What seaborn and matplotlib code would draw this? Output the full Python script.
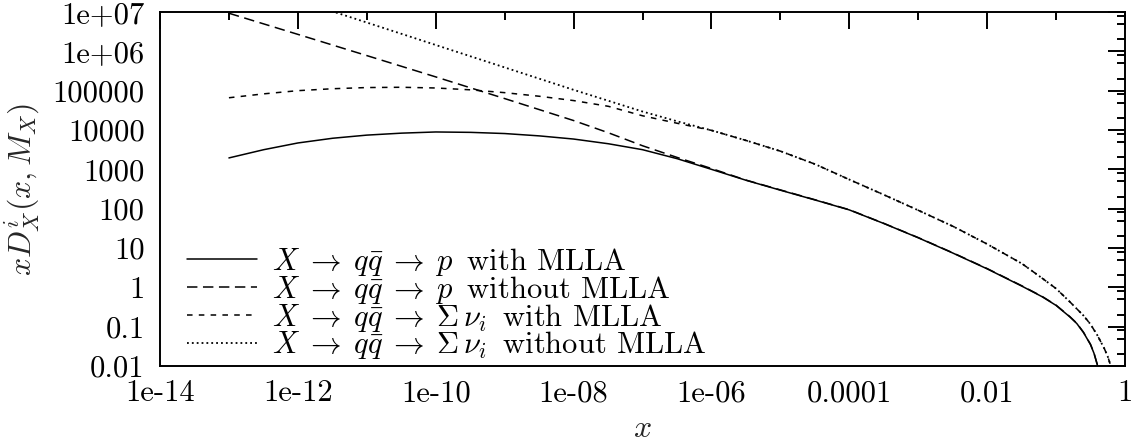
import matplotlib
matplotlib.use("Agg")
import matplotlib.pyplot as plt
from matplotlib.ticker import FixedLocator, FixedFormatter, NullFormatter
import seaborn as sns

# ---------------- data ----------------
x_main = [1e-13, 3.2e-13, 1e-12, 3.2e-12, 1e-11, 3.2e-11, 1e-10, 3.2e-10, 1e-9, 3.2e-9,
          1e-8, 3.2e-8, 1e-7, 3.2e-7, 1e-6, 3.2e-6, 1e-5, 3.2e-5, 1e-4, 3.2e-4,
          1e-3, 3.2e-3, 1e-2, 3.2e-2, 0.063, 0.1]

# X -> q qbar -> p with MLLA (solid)
x_p = x_main + [0.158, 0.20, 0.25, 0.316, 0.355, 0.398, 0.427]
y_p_mlla = [1950, 3160, 4680, 6170, 7410, 8320, 8910, 8710, 8130, 7080,
            5890, 4470, 3160, 1860, 1000, 525, 295, 166, 93, 41.7,
            18.2, 7.4, 2.95, 1.07, 0.575, 0.347, 0.178, 0.12, 0.071, 0.035, 0.021, 0.0105, 0.005]

# X -> q qbar -> p without MLLA (long dashes)
x_p_dla = [1e-13, 1e-12, 1e-11, 1e-10, 1e-9, 1e-8, 3.2e-8, 1e-7, 3.2e-7, 1e-6,
           3.2e-6, 1e-5, 3.2e-5, 1e-4, 3.2e-4, 1e-3, 3.2e-3, 1e-2, 3.2e-2, 0.063, 0.1,
           0.158, 0.20, 0.25, 0.316, 0.355, 0.398, 0.427]
y_p_dla = [9.3e6, 2.7e6, 7.8e5, 2.24e5, 6.3e4, 1.74e4, 8500, 3980, 2000, 1050,
           530, 300, 168, 94, 42, 18.4, 7.5, 3.0, 1.09, 0.585, 0.352,
           0.181, 0.122, 0.072, 0.0355, 0.0213, 0.0106, 0.0051]

# X -> q qbar -> sum nu_i with MLLA (short dashes)
x_nu = x_main + [0.158, 0.251, 0.316, 0.398, 0.50, 0.562, 0.631, 0.676]
y_nu_mlla = [6.6e4, 8.3e4, 1.0e5, 1.12e5, 1.2e5, 1.22e5, 1.17e5, 1.05e5, 8.9e4, 7.2e4,
             5.6e4, 4.0e4, 2.3e4, 1.48e4, 9800, 5400, 2900, 1350, 550, 224,
             91, 35.5, 12.6, 4.0, 1.7, 0.93, 0.43, 0.19, 0.115, 0.060, 0.028, 0.0174, 0.0093, 0.005]

# X -> q qbar -> sum nu_i without MLLA (dotted)
x_nu_dla = [1e-13, 1e-12, 1e-11, 1e-10, 1e-9, 1e-8, 1e-7, 3.2e-7, 1e-6,
            3.2e-6, 1e-5, 3.2e-5, 1e-4, 3.2e-4, 1e-3, 3.2e-3, 1e-2, 3.2e-2, 0.063, 0.1,
            0.158, 0.251, 0.316, 0.398, 0.50, 0.562, 0.631, 0.676]
y_nu_dla = [7.6e7, 2.0e7, 5.4e6, 1.45e6, 3.9e5, 1.05e5, 2.95e4, 1.66e4, 9800,
            5400, 2900, 1350, 550, 224, 91, 35.5, 12.6, 4.0, 1.7, 0.93,
            0.43, 0.19, 0.115, 0.060, 0.028, 0.0174, 0.0093, 0.005]

series_labels = [
    r"$X\;\to\;q\bar{q}\;\to\;p\,$ with MLLA",
    r"$X\;\to\;q\bar{q}\;\to\;p\,$ without MLLA",
    r"$X\;\to\;q\bar{q}\;\to\;\Sigma\,\nu_i\,$ with MLLA",
    r"$X\;\to\;q\bar{q}\;\to\;\Sigma\,\nu_i\,$ without MLLA",
]

x_major = [1e-14, 1e-12, 1e-10, 1e-8, 1e-6, 1e-4, 1e-2, 1]
x_major_labels = ["1e-14", "1e-12", "1e-10", "1e-08", "1e-06", "0.0001", "0.01", "1"]
x_minor = [1e-13, 1e-11, 1e-9, 1e-7, 1e-5, 1e-3, 1e-1]
y_major = [1e-2, 1e-1, 1, 10, 100, 1e3, 1e4, 1e5, 1e6, 1e7]
y_major_labels = ["0.01", "0.1", "1", "10", "100", "1000", "10000", "100000", "1e+06", "1e+07"]
y_minor_mult = [2, 5, 8]

# ---------------- styling ----------------
sns.set_theme(style="white")
plt.rcParams.update({
    "font.family": ["cmr10", "DejaVu Serif"],
    "mathtext.fontset": "cm",
    "axes.unicode_minus": False,
    "axes.formatter.use_mathtext": True,
    "lines.scale_dashes": False,
    "axes.edgecolor": "black",
    "axes.linewidth": 1.4,
    "text.color": "black",
    "xtick.color": "black",
    "ytick.color": "black",
})

fig = plt.figure(figsize=(11.32, 4.47), dpi=100)
ax = fig.add_axes([160 / 1132, 81 / 447, 965 / 1132, 354 / 447])

styles = ["-", (0, (7.5, 4.0)), (0, (4.0, 4.5)), (0, (1.3, 2.2))]
widths = [1.1, 1.1, 1.1, 1.3]
data = [(x_p, y_p_mlla), (x_p_dla, y_p_dla), (x_nu, y_nu_mlla), (x_nu_dla, y_nu_dla)]
for (xs, ys), ls, lw, lab in zip(data, styles, widths, series_labels):
    sns.lineplot(x=xs, y=ys, ax=ax, color="black", linewidth=lw, linestyle=ls,
                 label=lab, sort=False, estimator=None, legend=False)

ax.set_xscale("log")
ax.set_yscale("log")
ax.set_xlim(1e-14, 1)
ax.set_ylim(1e-2, 1e7)

ax.xaxis.set_major_locator(FixedLocator(x_major))
ax.xaxis.set_major_formatter(FixedFormatter(x_major_labels))
ax.xaxis.set_minor_locator(FixedLocator(x_minor))
ax.xaxis.set_minor_formatter(NullFormatter())
ax.yaxis.set_major_locator(FixedLocator(y_major))
ax.yaxis.set_major_formatter(FixedFormatter(y_major_labels))
ax.yaxis.set_minor_locator(FixedLocator([m * d for d in y_major[:-1] for m in y_minor_mult]))
ax.yaxis.set_minor_formatter(NullFormatter())

ax.tick_params(which="both", direction="in", top=True, right=True, width=1.4,
               labelsize=22)
ax.tick_params(which="major", length=12, pad=10)
ax.tick_params(which="minor", length=5.5)
ax.tick_params(axis="y", which="major", pad=11)

for sp in ax.spines.values():
    sp.set_visible(True)
    sp.set_color("black")
    sp.set_linewidth(1.4)

ax.set_xlabel(r"$x$", fontsize=23)
ax.set_ylabel(r"$xD_X^i(x,M_X)$", fontsize=23)
ax.xaxis.set_label_coords(0.5, -0.14)
ax.yaxis.set_label_coords(-0.122, 0.5)

ax.legend(loc="lower left", bbox_to_anchor=(0.0277, 0.013), frameon=False,
          fontsize=22, handlelength=2.3, handletextpad=0.5, labelspacing=-0.135,
          borderaxespad=0, borderpad=0)

fig.savefig("out.png", dpi=100)
